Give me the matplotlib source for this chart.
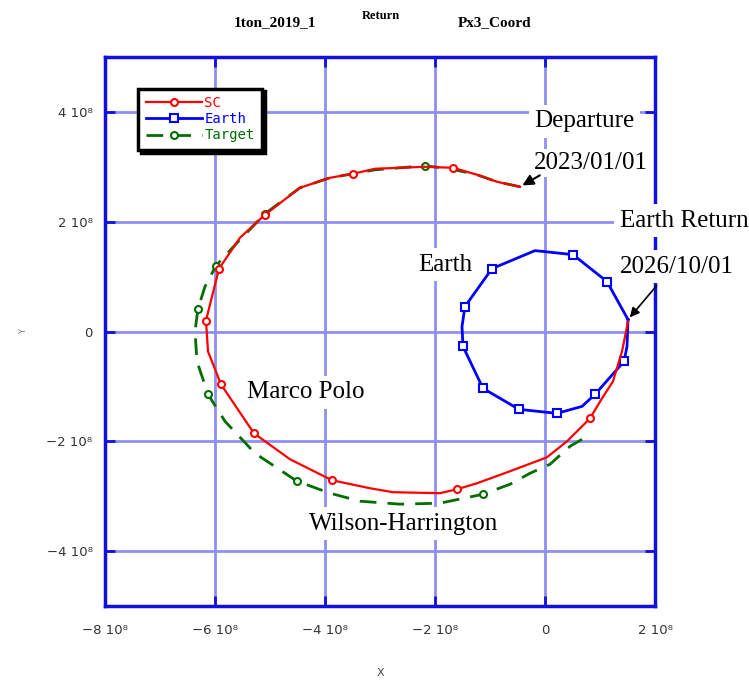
import matplotlib
matplotlib.use("Agg")
import matplotlib.pyplot as plt

# positions in units of 1e8 km
sc_x = [-0.455, -0.873, -1.236, -1.673, -2.182, -2.636, -3.091, -3.491, -3.909, -4.455,
        -5.091, -5.545, -5.927, -6.164, -6.127, -5.891, -5.291, -4.636, -3.873, -3.182,
        -2.764, -1.909, -1.6, -1.236, -0.636, 0.036, 0.4, 0.818, 1.036, 1.236, 1.4, 1.509]
sc_y = [2.636, 2.727, 2.855, 2.982, 3.0, 2.982, 2.964, 2.873, 2.8, 2.618,
        2.127, 1.709, 1.145, 0.2, -0.364, -0.964, -1.855, -2.327, -2.709, -2.855,
        -2.927, -2.945, -2.873, -2.764, -2.545, -2.291, -2.0, -1.582, -1.218, -0.909, -0.364, 0.182]
sc_marks = [3, 7, 10, 12, 13, 15, 16, 18, 22, 27]

earth_x = [1.509, 1.491, 1.436, 0.909, 0.673, 0.218, -0.473, -1.127, -1.491, -1.509,
           -1.455, -0.964, -0.182, 0.509, 1.127, 1.509]
earth_y = [0.218, -0.273, -0.545, -1.145, -1.364, -1.491, -1.418, -1.036, -0.273, 0.091,
           0.455, 1.145, 1.473, 1.4, 0.909, 0.218]
earth_marks = [2, 3, 5, 6, 7, 8, 10, 11, 13, 14]

target_x = [-0.455, -0.873, -1.236, -1.727, -2.182, -2.636, -3.091, -3.491, -3.909, -4.455,
            -5.091, -5.545, -5.982, -6.182, -6.309, -6.364, -6.327, -6.127, -5.818, -5.273,
            -4.509, -3.909, -3.364, -2.636, -1.909, -1.127, -0.636, -0.273, 0.091, 0.455, 0.673]
target_y = [2.636, 2.727, 2.855, 2.964, 3.018, 2.982, 2.945, 2.873, 2.8, 2.618,
            2.145, 1.673, 1.2, 0.818, 0.418, 0.0, -0.545, -1.145, -1.636, -2.218,
            -2.727, -2.945, -3.091, -3.145, -3.127, -2.964, -2.782, -2.582, -2.418, -2.091, -1.964]
target_marks = [4, 10, 12, 14, 17, 20, 25]

x_ticks = [-8, -6, -4, -2, 0, 2]
x_labels = ["\u22128 10\u2078", "\u22126 10\u2078", "\u22124 10\u2078", "\u22122 10\u2078", "0", "2 10\u2078"]
y_ticks = [-4, -2, 0, 2, 4]
y_labels = ["\u22124 10\u2078", "\u22122 10\u2078", "0", "2 10\u2078", "4 10\u2078"]

scale = 1e8

fig = plt.figure(figsize=(7.49, 6.8), dpi=100)
ax = fig.add_axes([0.1402, 0.1088, 0.7343, 0.8074])

ax.plot([v * scale for v in sc_x], [v * scale for v in sc_y], color="#ff0000", lw=1.6,
        marker="o", markevery=sc_marks, ms=5, mfc="white", mec="#ff0000", mew=1.5,
        label="SC", zorder=4)
ax.plot([v * scale for v in earth_x], [v * scale for v in earth_y], color="#0000ff", lw=2,
        marker="s", markevery=earth_marks, ms=6, mfc="white", mec="#0000ff", mew=1.5,
        label="Earth", zorder=3)
ax.plot([v * scale for v in target_x], [v * scale for v in target_y], color="#006e00", lw=2,
        dashes=(6, 4), marker="o", markevery=target_marks, ms=5, mfc="white",
        mec="#006e00", mew=1.5, label="Target", zorder=3.5)

ax.set_xlim(-8 * scale, 2 * scale)
ax.set_ylim(-5 * scale, 5 * scale)
ax.set_xticks([t * scale for t in x_ticks])
ax.set_xticklabels(x_labels)
ax.set_yticks([t * scale for t in y_ticks])
ax.set_yticklabels(y_labels)
ax.tick_params(direction="in", length=7, width=2, color="#1010e0", labelsize=9.5,
               labelcolor="#333333", right=True, top=True)
ax.tick_params(axis="x", pad=13)
ax.tick_params(axis="y", pad=9)
ax.grid(True, color="#8f8ff2", lw=2)
ax.set_axisbelow(True)
for s in ax.spines.values():
    s.set_color("#1010e0")
    s.set_linewidth(2.5)

ax.set_xlabel("X", fontsize=8, color="#444444", labelpad=22)
ax.set_ylabel("Y", fontsize=6, color="#777777")
ax.yaxis.set_label_coords(-0.14, 0.5)

leg = ax.legend(loc="upper left", bbox_to_anchor=(0.048, 0.955), handlelength=4.0,
                prop={"family": "DejaVu Sans Mono", "size": 10}, frameon=True,
                fancybox=False, borderpad=0.55, labelspacing=0.15, handletextpad=0.2,
                shadow={"color": "black", "alpha": 1.0})
leg.get_frame().set_edgecolor("black")
leg.get_frame().set_linewidth(2.5)
for txt, c in zip(leg.get_texts(), ["#ff0000", "#0000ff", "#006e00"]):
    txt.set_color(c)

serif = "Liberation Serif"
fs = 18
box = dict(facecolor="white", edgecolor="none", pad=4)
ax.text(-0.2 * scale, 3.83 * scale, "Departure", family=serif, fontsize=fs, zorder=6,
        va="center", bbox=box)
ax.text(-0.2 * scale, 3.07 * scale, "2023/01/01", family=serif, fontsize=fs, zorder=6,
        va="center", bbox=dict(facecolor="white", edgecolor="none", pad=2))
ax.text(1.36 * scale, 2.02 * scale, "Earth Return", family=serif, fontsize=fs, zorder=6,
        va="center", bbox=box, clip_on=False)
ax.text(1.36 * scale, 1.18 * scale, "2026/10/01", family=serif, fontsize=fs, zorder=6,
        va="center", bbox=box, clip_on=False)
ax.text(-2.31 * scale, 1.22 * scale, "Earth", family=serif, fontsize=fs, zorder=6,
        va="center", bbox=box)
ax.text(-5.42 * scale, -1.11 * scale, "Marco Polo", family=serif, fontsize=fs, zorder=6,
        va="center", bbox=box)
ax.text(-4.3 * scale, -3.5 * scale, "Wilson-Harrington", family=serif, fontsize=fs,
        zorder=6, va="center", bbox=box)

ax.annotate("", xy=(sc_x[0] * scale, sc_y[0] * scale), xytext=(-0.05 * scale, 2.87 * scale),
            arrowprops=dict(arrowstyle="-|>", color="black", lw=1.5, mutation_scale=16),
            zorder=7)
ax.annotate("", xy=(earth_x[0] * scale, earth_y[0] * scale), xytext=(2.06 * scale, 0.87 * scale),
            arrowprops=dict(arrowstyle="-|>", color="black", lw=1.2, mutation_scale=14),
            zorder=7, annotation_clip=False)

fig.text(0.367, 0.967, "1ton_2019_1", family=serif, weight="bold", fontsize=11,
         ha="center", va="center")
fig.text(0.508, 0.977, "Return", family=serif, weight="bold", fontsize=9,
         ha="center", va="center")
fig.text(0.661, 0.967, "Px3_Coord", family=serif, weight="bold", fontsize=11,
         ha="center", va="center")

fig.savefig("out.png", dpi=100)
